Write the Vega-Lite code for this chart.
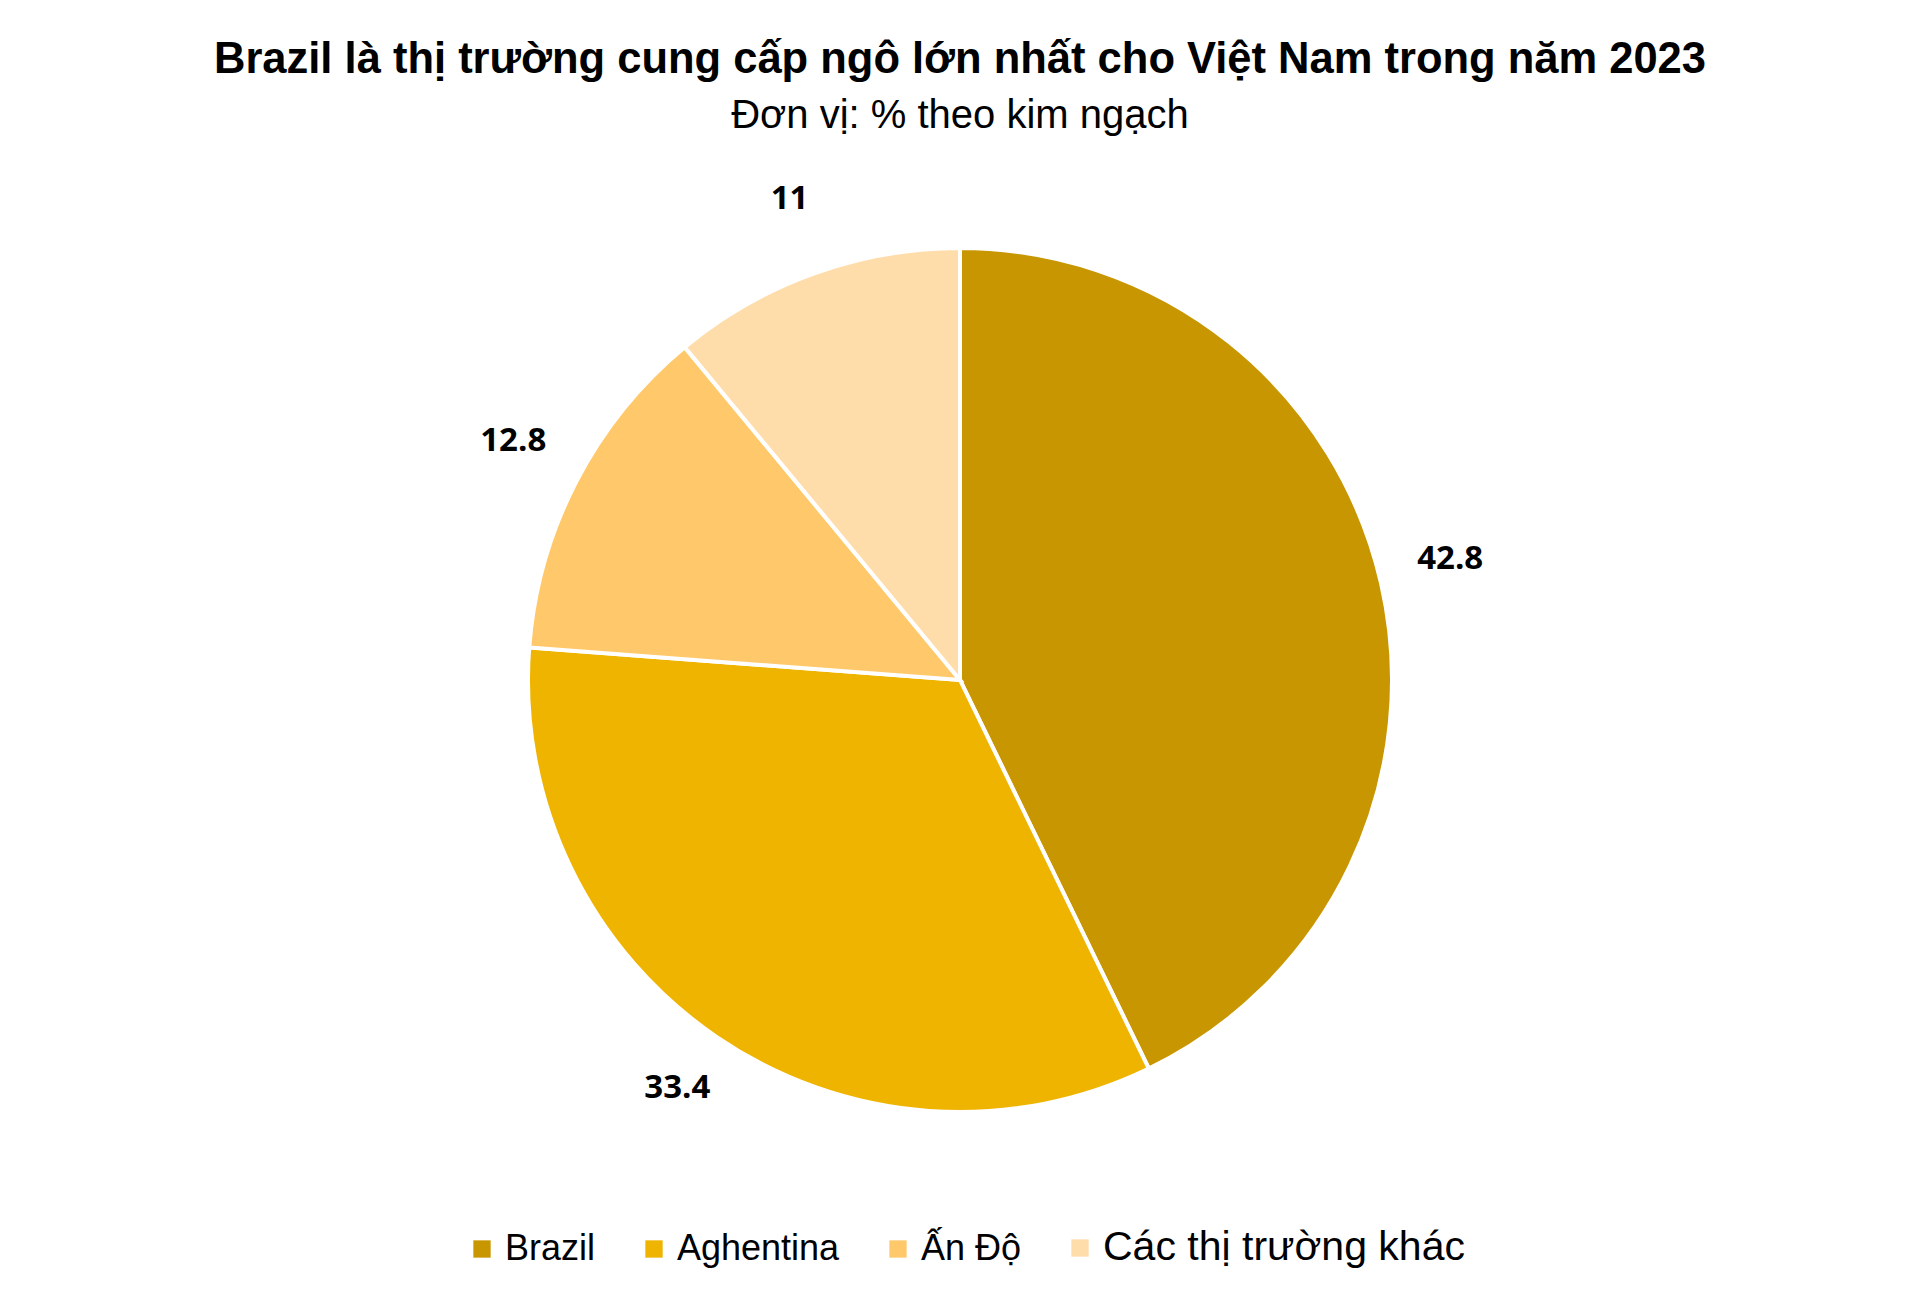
{
  "$schema": "https://vega.github.io/schema/vega-lite/v6.json",
  "description": "Brazil corn import share pie, Vietnam 2023",
  "autosize": {"type": "none"},
  "padding": {"top": 150, "left": 0, "right": 0, "bottom": 91},
  "width": 1920,
  "height": 1060,
  "background": "white",
  "title": {
    "text": "Brazil là thị trường cung cấp ngô lớn nhất cho Việt Nam trong năm 2023",
    "subtitle": "Đơn vị: % theo kim ngạch",
    "anchor": "middle",
    "font": "Liberation Sans",
    "fontSize": 43.5,
    "fontWeight": "bold",
    "color": "#000000",
    "subtitleFont": "Liberation Sans",
    "subtitleFontSize": 40,
    "subtitleColor": "#000000",
    "subtitlePadding": 14,
    "offset": 13
  },
  "data": {
    "values": [
      {"market": "Brazil", "share": 42.8},
      {"market": "Aghentina", "share": 33.4},
      {"market": "Ấn Độ", "share": 12.8},
      {"market": "Các thị trường khác", "share": 11}
    ]
  },
  "transform": [
    {"window": [{"op": "row_number", "as": "n"}]}
  ],
  "encoding": {
    "theta": {"field": "share", "type": "quantitative", "stack": true},
    "order": {"field": "n", "type": "quantitative"}
  },
  "layer": [
    {
      "mark": {"type": "arc", "radius": 432, "stroke": "white", "strokeWidth": 4},
      "encoding": {
        "color": {
          "field": "market",
          "type": "nominal",
          "sort": ["Brazil", "Aghentina", "Ấn Độ", "Các thị trường khác"],
          "scale": {
            "domain": ["Brazil", "Aghentina", "Ấn Độ", "Các thị trường khác"],
            "range": ["#C89600", "#EFB400", "#FFC96B", "#FFDDAB"]
          },
          "legend": {
            "title": null,
            "orient": "none",
            "direction": "horizontal",
            "legendX": 464,
            "legendY": 1080,
            "symbolType": "square",
            "symbolSize": 300,
            "symbolStrokeWidth": 0,
            "labelFont": "Liberation Sans",
            "labelFontSize": {"expr": "datum.label === 'Các thị trường khác' ? 41 : 36"},
            "labelColor": "#000000",
            "labelOffset": 5,
            "columnPadding": 40,
            "labelLimit": 500
          }
        }
      }
    },
    {
      "mark": {
        "type": "text",
        "radius": 503,
        "dy": -8,
        "font": "Open Sans",
        "fontWeight": "bold",
        "fontSize": 33,
        "color": "#000000",
        "align": "center",
        "baseline": "middle"
      },
      "encoding": {
        "text": {"field": "share", "type": "quantitative"}
      }
    }
  ],
  "config": {
    "view": {"stroke": null}
  }
}
